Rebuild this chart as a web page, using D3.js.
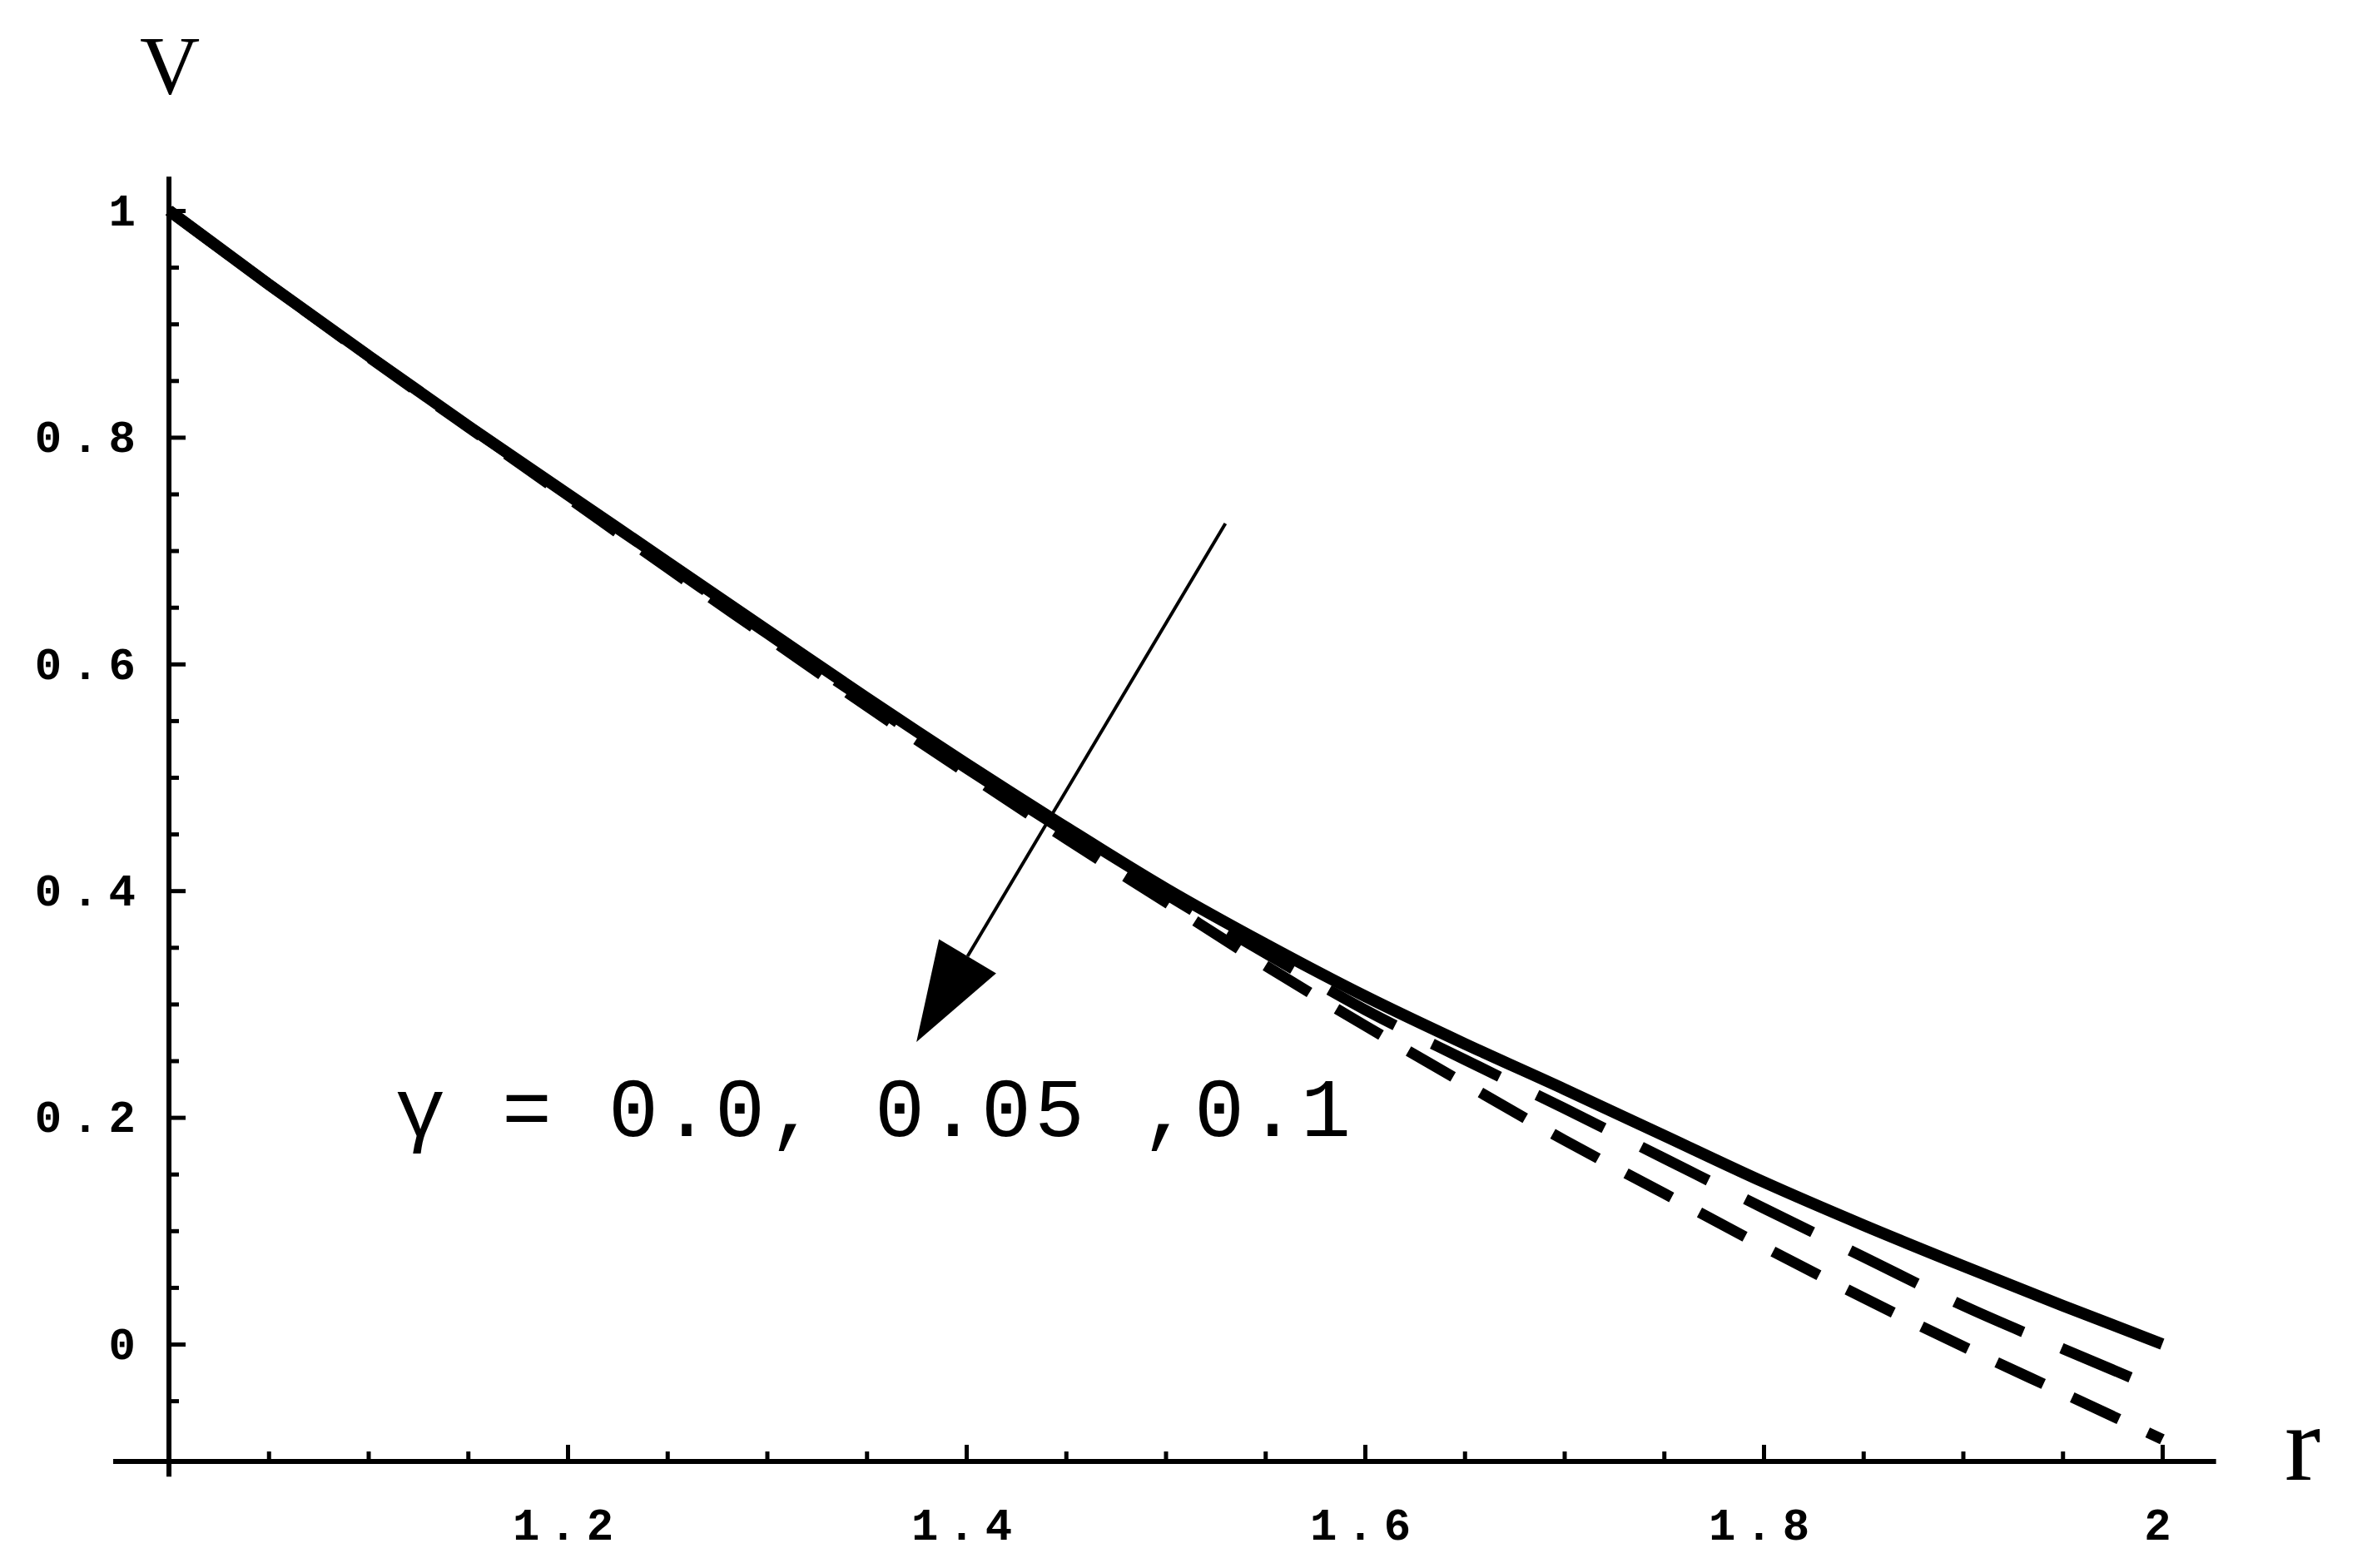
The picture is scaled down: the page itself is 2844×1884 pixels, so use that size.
<!DOCTYPE html>
<html>
<head>
<meta charset="utf-8">
<script src="https://cdn.jsdelivr.net/npm/d3@7"></script>
<style>
  html, body { margin: 0; padding: 0; background: #fff; }
  svg { display: block; }
</style>
</head>
<body>
<script>
// ---------------- data ----------------
const rValues   = [1.0, 1.05, 1.1, 1.15, 1.2, 1.25, 1.3, 1.35, 1.4, 1.45, 1.5, 1.55, 1.6, 1.65, 1.7, 1.75, 1.8, 1.85, 1.9, 1.95, 2.0];
const vGamma0   = [1.0, 0.935, 0.872, 0.81, 0.75, 0.69, 0.63, 0.57, 0.512, 0.456, 0.402, 0.353, 0.307, 0.265, 0.225, 0.184, 0.143, 0.105, 0.069, 0.034, 0.0];
const vGamma005 = [1.0, 0.935, 0.872, 0.81, 0.749, 0.688, 0.627, 0.567, 0.508, 0.452, 0.397, 0.345, 0.295, 0.251, 0.208, 0.164, 0.12, 0.077, 0.034, -0.004, -0.041];
const vGamma01  = [1.0, 0.935, 0.871, 0.809, 0.747, 0.685, 0.624, 0.563, 0.504, 0.446, 0.39, 0.334, 0.281, 0.23, 0.18, 0.133, 0.086, 0.041, -0.002, -0.043, -0.084];

const xMajorTicks = [1.2, 1.4, 1.6, 1.8, 2];
const xMajorLabels = ["1.2", "1.4", "1.6", "1.8", "2"];
const xMinorTicks = [1.05, 1.1, 1.15, 1.25, 1.3, 1.35, 1.45, 1.5, 1.55, 1.65, 1.7, 1.75, 1.85, 1.9, 1.95];
const yMajorTicks = [0, 0.2, 0.4, 0.6, 0.8, 1];
const yMajorLabels = ["0", "0.2", "0.4", "0.6", "0.8", "1"];
const yMinorTicks = [-0.05, 0.05, 0.1, 0.15, 0.25, 0.3, 0.35, 0.45, 0.5, 0.55, 0.65, 0.7, 0.75, 0.85, 0.9, 0.95];

const axisOrigin = [1, -0.1035];
const xAxisExtent = [0.972, 2.027];
const yAxisExtent = [-0.117, 1.03];

const arrowFrom = [1.530, 0.724];
const arrowTo   = [1.375, 0.2665];

const annotation = "\u03b3 = 0.0, 0.05 ,0.1";
const xTitle = "r";
const yTitle = "V";

// ---------------- layout ----------------
const W = 2844, H = 1884;
const x = d3.scaleLinear().domain([1, 2]).range([203, 2598]);
const y = d3.scaleLinear().domain([0, 1]).range([1615, 253]);

const svg = d3.select("body").append("svg")
  .attr("width", W).attr("height", H)
  .attr("viewBox", `0 0 ${W} ${H}`);

svg.append("rect").attr("width", W).attr("height", H).attr("fill", "#fff");

const monoFont = "'Liberation Mono', 'DejaVu Sans Mono', monospace";

// axis lines
svg.append("line")
  .attr("x1", x(xAxisExtent[0])).attr("x2", x(xAxisExtent[1]))
  .attr("y1", y(axisOrigin[1])).attr("y2", y(axisOrigin[1]))
  .attr("stroke", "#000").attr("stroke-width", 6);
svg.append("line")
  .attr("x1", x(axisOrigin[0])).attr("x2", x(axisOrigin[0]))
  .attr("y1", y(yAxisExtent[0])).attr("y2", y(yAxisExtent[1]))
  .attr("stroke", "#000").attr("stroke-width", 6);

// y axis (ticks pointing right, inside)
const yAxisMajor = d3.axisLeft(y).tickValues(yMajorTicks)
  .tickFormat((d, i) => yMajorLabels[i])
  .tickSizeInner(-20).tickSizeOuter(0).tickPadding(28);
const gy = svg.append("g").attr("transform", `translate(${x(axisOrigin[0])},0)`).call(yAxisMajor);
const yAxisMinor = d3.axisLeft(y).tickValues(yMinorTicks).tickFormat("")
  .tickSizeInner(-12).tickSizeOuter(0);
const gy2 = svg.append("g").attr("transform", `translate(${x(axisOrigin[0])},0)`).call(yAxisMinor);

// x axis (ticks pointing up)
const xAxisMajor = d3.axisBottom(x).tickValues(xMajorTicks)
  .tickFormat((d, i) => xMajorLabels[i])
  .tickSizeInner(-20).tickSizeOuter(0).tickPadding(75);
const gx = svg.append("g").attr("transform", `translate(0,${y(axisOrigin[1])})`).call(xAxisMajor);
const xAxisMinor = d3.axisBottom(x).tickValues(xMinorTicks).tickFormat("")
  .tickSizeInner(-12).tickSizeOuter(0);
const gx2 = svg.append("g").attr("transform", `translate(0,${y(axisOrigin[1])})`).call(xAxisMinor);

[gy, gy2, gx, gx2].forEach(g => {
  g.select(".domain").remove();
  g.selectAll(".tick line").attr("stroke", "#000").attr("stroke-width", 5);
  g.selectAll(".tick text")
    .attr("fill", "#000")
    .attr("font-family", monoFont)
    .attr("font-weight", "bold")
    .attr("font-size", 54)
    .attr("letter-spacing", 12);
});
gx.selectAll(".tick text").attr("dy", "0.35em");

// curves
const line = d3.line().x((d) => x(d[0])).y((d) => y(d[1])).curve(d3.curveMonotoneX);
const series = [
  { v: vGamma0,   dash: null,      w: 14 },
  { v: vGamma005, dash: "90,50",   w: 13 },
  { v: vGamma01,  dash: "62,38",   w: 13 }
];
series.forEach(s => {
  const pts = rValues.map((r, i) => [r, s.v[i]]);
  const p = svg.append("path").datum(pts)
    .attr("d", line)
    .attr("fill", "none")
    .attr("stroke", "#000")
    .attr("stroke-width", s.w)
    .attr("stroke-linejoin", "round");
  if (s.dash) p.attr("stroke-dasharray", s.dash);
});

// arrow
const ax0 = x(arrowFrom[0]), ay0 = y(arrowFrom[1]);
const ax1 = x(arrowTo[0]),   ay1 = y(arrowTo[1]);
const dx = ax1 - ax0, dy = ay1 - ay0;
const len = Math.hypot(dx, dy);
const ux = dx / len, uy = dy / len;
const headLen = 120, headW = 40;
const bx = ax1 - ux * headLen, by = ay1 - uy * headLen;
svg.append("line")
  .attr("x1", ax0).attr("y1", ay0).attr("x2", bx).attr("y2", by)
  .attr("stroke", "#000").attr("stroke-width", 4);
svg.append("path")
  .attr("d", `M${ax1},${ay1} L${bx - uy * headW},${by + ux * headW} L${bx + uy * headW},${by - ux * headW} Z`)
  .attr("fill", "#000");

// annotation
svg.append("text")
  .attr("x", 475).attr("y", 1365)
  .attr("font-family", monoFont)
  .attr("font-size", 100)
  .attr("textLength", 1148)
  .attr("lengthAdjust", "spacing")
  .attr("fill", "#000")
  .text(annotation);

// axis titles
svg.append("text")
  .attr("x", 204).attr("y", 112)
  .attr("text-anchor", "middle")
  .attr("font-family", "'Liberation Serif', serif")
  .attr("font-size", 100)
  .attr("fill", "#000")
  .text(yTitle);
svg.append("text")
  .attr("x", 2745).attr("y", 1778)
  .attr("font-family", "'Liberation Serif', serif")
  .attr("font-size", 130)
  .attr("fill", "#000")
  .text(xTitle);
</script>
</body>
</html>
